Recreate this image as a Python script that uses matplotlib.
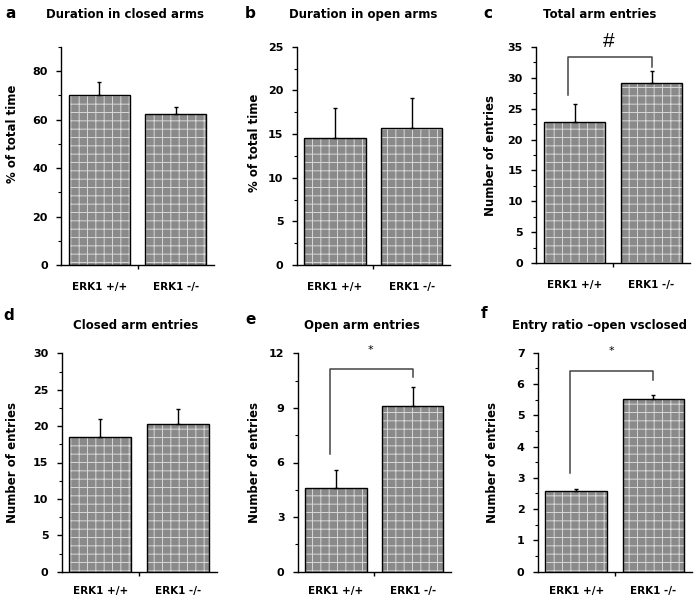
import matplotlib.pyplot as plt
import matplotlib.ticker as mticker

# group labels
groups = ['ERK1 +/+', 'ERK1 -/-']

# mean values and upper SEM
closed_time = [70.2, 62.2]
closed_time_err = [5.2, 3.1]
open_time = [14.6, 15.7]
open_time_err = [3.4, 3.4]
total_entries = [22.9, 29.2]
total_entries_err = [2.8, 1.9]
closed_entries = [18.5, 20.3]
closed_entries_err = [2.5, 2.1]
open_entries = [4.6, 9.1]
open_entries_err = [1.0, 1.05]
entry_ratio = [2.59, 5.52]
entry_ratio_err = [0.06, 0.12]

titles = ['Duration in closed arms', 'Duration in open arms', 'Total arm entries',
          'Closed arm entries', 'Open arm entries', 'Entry ratio \u2013open vsclosed']
letters = ['a', 'b', 'c', 'd', 'e', 'f']
ylabels = ['% of total time', '% of total time', 'Number of entries',
           'Number of entries', 'Number of entries', 'Number of entries']
means = [closed_time, open_time, total_entries, closed_entries, open_entries, entry_ratio]
errs = [closed_time_err, open_time_err, total_entries_err,
        closed_entries_err, open_entries_err, entry_ratio_err]

plt.rcParams['font.family'] = 'DejaVu Sans'
plt.rcParams['font.weight'] = 'bold'
plt.rcParams['hatch.linewidth'] = 0.7

W, H = 700, 601
fig = plt.figure(figsize=(7, 6.01), dpi=100)

# axes boxes in pixels: left, top, right, bottom
boxes = [(61, 47, 214, 265), (296.7, 46.7, 450, 265), (536, 46.7, 690, 263.3),
         (61.7, 353.3, 216.7, 571.7), (297.7, 353.3, 451, 571.7), (537.7, 352.7, 692, 571.7)]
ymax = [90, 25, 35, 30, 12, 7]
major = [20, 5, 5, 5, 3, 1]
minor = [10, 2.5, 2.5, 2.5, 1.5, 0.5]
title_x = [125, 363, 600, 136, 362, 600]
title_y = [18, 18, 18, 329, 329, 329]
letter_x = [11, 250, 488, 9, 251, 484]
letter_y = [18, 18, 18, 320, 324, 318]
ylab_pos = [(-0.275, 0.60), (-0.235, 0.56), (-0.25, 0.5), (-0.275, 0.5), (-0.24, 0.5), (-0.25, 0.5)]
xpad = [12, 12, 12, 10, 10, 10]

# significance brackets: panel -> (bar y, left leg end, right leg end, mark, mark y, mark size, font)
sig = {2: (33.3, 27.2, 31.8, '#', 35.8, 15, 'Liberation Sans'),
       4: (11.13, 6.44, 10.7, '*', 12.2, 8, 'DejaVu Sans'),
       5: (6.42, 3.14, 6.12, '*', 7.07, 8, 'DejaVu Sans')}

x = [0, 1]
for i in range(6):
    l, t, r, b = boxes[i]
    ax = fig.add_axes([l / W, 1 - b / H, (r - l) / W, (b - t) / H])
    ax.bar(x, means[i], width=0.8, color='#8a8a8a', edgecolor='#d8d8d8',
           hatch='++', linewidth=0, zorder=2)
    ax.bar(x, means[i], width=0.8, color='none', edgecolor='black',
           linewidth=1.0, zorder=3)
    ax.errorbar(x, means[i], yerr=[[0, 0], errs[i]], fmt='none', ecolor='black',
                elinewidth=1.0, capsize=1.5, capthick=1.0, zorder=4)

    ax.set_xlim(-0.5, 1.5)
    ax.set_ylim(0, ymax[i])
    for s in ['top', 'right']:
        ax.spines[s].set_visible(False)
    for s in ['left', 'bottom']:
        ax.spines[s].set_linewidth(1.0)

    ax.set_xticks(x)
    ax.set_xticklabels(groups, fontsize=7.5, fontweight='bold')
    ax.set_xticks([0.5], minor=True)
    ax.tick_params(axis='x', which='major', length=0, pad=xpad[i])
    ax.tick_params(axis='x', which='minor', length=3, width=1.0, direction='out')

    ax.yaxis.set_major_locator(mticker.MultipleLocator(major[i]))
    ax.yaxis.set_minor_locator(mticker.MultipleLocator(minor[i]))
    ax.yaxis.set_major_formatter(mticker.FormatStrFormatter('%d'))
    ax.tick_params(axis='y', which='major', length=3.5, width=1.0, pad=6, labelsize=8)
    ax.tick_params(axis='y', which='minor', length=2, width=0.8)

    ax.set_ylabel(ylabels[i], fontsize=8.5, fontweight='bold')
    ax.yaxis.set_label_coords(*ylab_pos[i])

    fig.text(title_x[i] / W, 1 - title_y[i] / H, titles[i], ha='center', va='baseline',
             fontsize=8.5, fontweight='bold')
    fig.text(letter_x[i] / W, 1 - letter_y[i] / H, letters[i], ha='center', va='baseline',
             fontsize=11, fontweight='bold')

    if i in sig:
        yb, yl, yr, mark, ym, ms, fam = sig[i]
        ax.plot([-0.08, -0.08, 1.0, 1.0], [yl, yb, yb, yr], color='#444444',
                linewidth=1.1, clip_on=False, zorder=5)
        ax.text(0.45, ym, mark, ha='center', va='center', fontsize=ms,
                fontweight='normal', family=fam, clip_on=False)

fig.savefig('out.png', dpi=100)
